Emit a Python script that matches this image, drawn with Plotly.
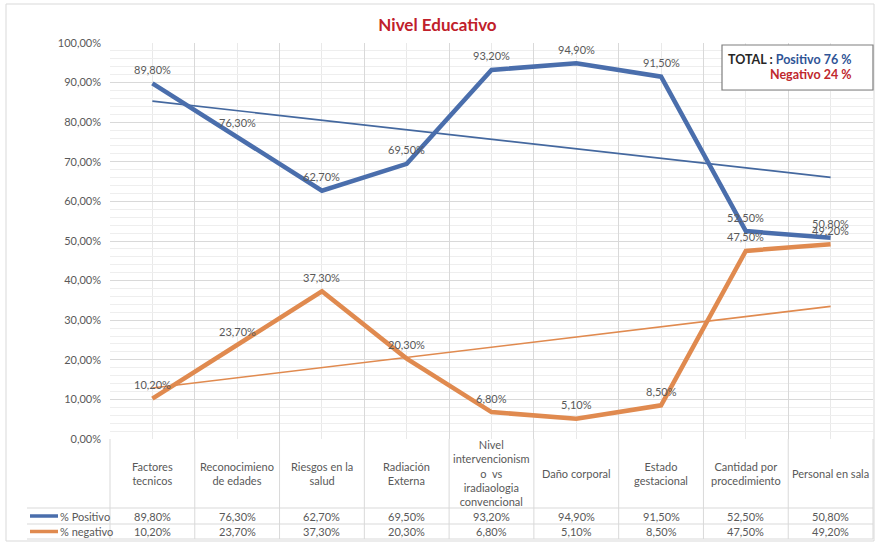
import numpy as np
import plotly.graph_objects as go

title = "Nivel Educativo"
categories = [
    "Factores<br>tecnicos",
    "Reconocimieno<br>de edades",
    "Riesgos en la<br>salud",
    "Radiación<br>Externa",
    "Nivel<br>intervencionism<br>o  vs<br>iradiaologia<br>convencional",
    "Daño corporal",
    "Estado<br>gestacional",
    "Cantidad por<br>procedimiento",
    "Personal en sala",
]
positivo = [89.8, 76.3, 62.7, 69.5, 93.2, 94.9, 91.5, 52.5, 50.8]
negativo = [10.2, 23.7, 37.3, 20.3, 6.8, 5.1, 8.5, 47.5, 49.2]
series_names = ["% Positivo", "% negativo"]
total_pos = "Positivo 76 %"
total_neg = "Negativo 24 %"

W, H = 875, 542
L, R, T, B = 110, 873, 43, 439
pw, ph = R - L, B - T

def xp(px):
    return (px - L) / pw

def yp(py):
    return (B - py) / ph

BLUE = "#4a6eac"
BLUE_T = "#44689f"
ORANGE = "#e08a4f"
GRAY = "#595959"
GRID = "#d9d9d9"
FONT = "Lato"

n = len(categories)
xs = np.arange(n)
pos = np.array(positivo) / 100
neg = np.array(negativo) / 100

def fmt(v):
    return f"{v:.2f}".replace(".", ",") + "%"

fig = go.Figure()
# trend lines
for vals, col in [(pos, BLUE_T), (neg, ORANGE)]:
    c = np.polyfit(xs, vals, 1)
    fig.add_trace(go.Scatter(x=xs, y=np.polyval(c, xs), mode="lines",
                             line=dict(color=col, width=1.6), hoverinfo="skip",
                             showlegend=False))
for vals, col, name in [(pos, BLUE, series_names[0]), (neg, ORANGE, series_names[1])]:
    fig.add_trace(go.Scatter(x=xs, y=vals, mode="lines", name=name,
                             line=dict(color=col, width=4.5), showlegend=False))

shapes = []
annotations = []

# data labels
for vals, raw in [(pos, positivo), (neg, negativo)]:
    for i in range(n):
        annotations.append(dict(text=fmt(raw[i]), x=xs[i], y=vals[i], xref="x", yref="y",
                                showarrow=False, yshift=14, xanchor="center",
                                yanchor="middle",
                                font=dict(color=GRAY, size=11, family=FONT)))

# outer chart border
shapes.append(dict(type="rect", xref="paper", yref="paper", x0=xp(6), x1=xp(874),
                   y0=yp(541), y1=yp(4), line=dict(color="#d9d9d9", width=1), layer="below"))

# table lines
row_y = [508, 524, 539]
for ry in row_y:
    shapes.append(dict(type="line", xref="paper", yref="paper", x0=xp(27), x1=xp(873),
                       y0=yp(ry), y1=yp(ry), line=dict(color=GRID, width=1)))
col_w = pw / n
for i in range(n + 1):
    bx = L + i * col_w
    shapes.append(dict(type="line", xref="paper", yref="paper", x0=xp(bx), x1=xp(bx),
                       y0=yp(B), y1=yp(539), line=dict(color=GRID, width=1)))

# category headers
for i, cat in enumerate(categories):
    cx = L + (i + 0.5) * col_w
    annotations.append(dict(text=cat, xref="paper", yref="paper", x=xp(cx), y=yp(473),
                            showarrow=False, font=dict(color=GRAY, size=11, family=FONT),
                            xanchor="center", yanchor="middle", align="center"))
    for raw, ry in [(positivo[i], 516), (negativo[i], 531.5)]:
        annotations.append(dict(text=fmt(raw), xref="paper", yref="paper", x=xp(cx), y=yp(ry),
                                showarrow=False, font=dict(color=GRAY, size=11, family=FONT),
                                xanchor="center", yanchor="middle"))

# legend keys in table
for name, col, ry in [(series_names[0], BLUE, 516), (series_names[1], ORANGE, 531.5)]:
    shapes.append(dict(type="line", xref="paper", yref="paper", x0=xp(30), x1=xp(58),
                       y0=yp(ry), y1=yp(ry), line=dict(color=col, width=3.5)))
    annotations.append(dict(text=name, xref="paper", yref="paper", x=xp(58), y=yp(ry),
                            showarrow=False, font=dict(color=GRAY, size=11, family=FONT),
                            xanchor="left", yanchor="middle"))

# total box
shapes.append(dict(type="rect", xref="paper", yref="paper", x0=xp(722), x1=xp(873),
                   y0=yp(90), y1=yp(45), line=dict(color="#7f7f7f", width=1.2),
                   fillcolor="white"))
annotations.append(dict(text=f"<b>TOTAL : <span style='color:#2f5496'>{total_pos}</span></b>",
                        xref="paper", yref="paper", x=xp(853), y=yp(59.5), showarrow=False,
                        font=dict(color="#262626", size=12.5, family=FONT),
                        xanchor="right", yanchor="middle"))
annotations.append(dict(text=f"<b>{total_neg}</b>",
                        xref="paper", yref="paper", x=xp(853), y=yp(75), showarrow=False,
                        font=dict(color="#c0282d", size=12.5, family=FONT),
                        xanchor="right", yanchor="middle"))

fig.update_layout(
    width=W, height=H,
    margin=dict(l=L, r=W - R, t=T, b=H - B),
    paper_bgcolor="white", plot_bgcolor="white",
    separators=",.",
    title=dict(text=f"<b>{title}</b>", x=0.5, xref="container", xanchor="center",
               y=1 - 25 / H, yanchor="middle", yref="container",
               font=dict(color="#c0202a", size=17, family=FONT)),
    xaxis=dict(range=[-0.5, n - 0.5], tickvals=[i - 0.5 for i in range(n + 1)],
               showticklabels=False, showgrid=True, gridcolor=GRID, gridwidth=1,
               zeroline=False, showline=False, ticks="",
               minor=dict(tickvals=list(range(n)), showgrid=True, gridcolor="#e9e9e9",
                          gridwidth=1, ticks="")),
    yaxis=dict(range=[0, 1], dtick=0.1, tickformat=".2%", showgrid=True, gridcolor=GRID,
               gridwidth=1, zeroline=False, showline=False, ticks="",
               tickfont=dict(color=GRAY, size=11, family=FONT), ticklabelstandoff=8,
               minor=dict(dtick=0.02, showgrid=True, gridcolor="#eeeeee", gridwidth=1)),
    shapes=shapes, annotations=annotations,
)

fig.write_html("out.html")
